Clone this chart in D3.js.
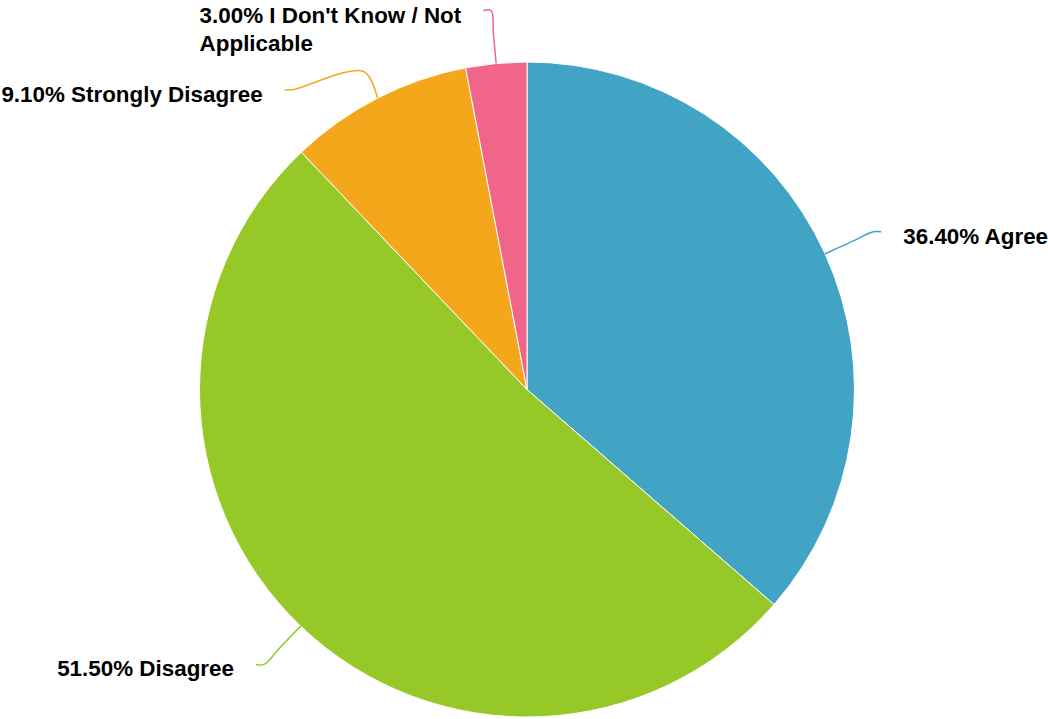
<!DOCTYPE html>
<html>
<head>
<meta charset="utf-8">
<script src="https://cdn.jsdelivr.net/npm/d3@7/dist/d3.min.js"></script>
<style>
  html, body { margin: 0; padding: 0; background: #ffffff; }
  svg { display: block; }
  .lbl { font-family: "Liberation Sans", Arial, Helvetica, sans-serif; font-weight: bold; font-size: 22.4px; fill: #000; }
</style>
</head>
<body>
<svg id="chart" width="1048" height="719"></svg>
<script>
// Survey responses (percent of respondents)
const categories = ["Agree", "Disagree", "Strongly Disagree", "I Don't Know / Not Applicable"];
const values = [36.4, 51.5, 9.1, 3.0];
const colors = ["#42a4c4", "#96c828", "#f5a71c", "#f06589"];

const width = 1048, height = 719;
const cx = 527, cy = 389.5, radius = 327.5;
const kneeRadius = radius + 53;    // circle where leader lines turn horizontal
const elbowRadius = radius + 30;   // radial part of the leader line
const tailLength = 8;              // short horizontal end of each leader
const textOffset = 30;             // knee to text edge
const baselineShift = 12;
const lineHeight = 28;
const wrapWidth = 300;

const svg = d3.select("#chart");
const g = svg.append("g").attr("transform", `translate(${cx},${cy})`);

const data = categories.map((c, i) => ({ name: c, value: values[i], color: colors[i] }));

const pie = d3.pie().sort(null).value(d => d.value);
const arcs = pie(data);
const arc = d3.arc().innerRadius(0).outerRadius(radius);

g.selectAll("path.slice")
  .data(arcs)
  .join("path")
  .attr("class", "slice")
  .attr("d", arc)
  .attr("fill", d => d.data.color)
  .attr("stroke", "#ffffff")
  .attr("stroke-width", 1);

// point at a given radius along an angle measured clockwise from 12 o'clock
const polar = (r, a) => [r * Math.sin(a), -r * Math.cos(a)];

// word-wrap label text to a maximum width
const measurer = svg.append("text").attr("class", "lbl").attr("visibility", "hidden");
const textWidth = s => { measurer.text(s); return measurer.node().getComputedTextLength(); };
function wrapLines(text) {
  const words = text.split(" ");
  const lines = [];
  let cur = "";
  words.forEach(w => {
    const trial = cur ? cur + " " + w : w;
    if (cur && textWidth(trial) > wrapWidth) {
      lines.push(cur);
      cur = w;
    } else {
      cur = trial;
    }
  });
  if (cur) lines.push(cur);
  return lines;
}

const labels = arcs.map(a => {
  const mid = (a.startAngle + a.endAngle) / 2;
  const [x, y] = polar(kneeRadius, mid);
  const text = d3.format(".2f")(a.data.value) + "% " + a.data.name;
  const lines = wrapLines(text);
  return {
    arc: a, mid, x, y,
    right: Math.sin(mid) >= 0,
    lines,
    blockWidth: d3.max(lines, textWidth)
  };
});
measurer.remove();

// push overlapping labels downward along the knee circle, per side
[true, false].forEach(side => {
  const group = labels.filter(l => l.right === side).sort((a, b) => a.y - b.y);
  for (let i = 1; i < group.length; i++) {
    const prev = group[i - 1], cur = group[i];
    const need = prev.y + prev.lines.length * lineHeight + 23;
    if (cur.y < need) {
      cur.y = need;
      const dx = Math.sqrt(Math.max(0, kneeRadius * kneeRadius - cur.y * cur.y));
      cur.x = side ? dx : -dx;
    }
  }
});

const leader = d3.line().curve(d3.curveCatmullRom.alpha(0.5));

g.selectAll("path.leader")
  .data(labels)
  .join("path")
  .attr("class", "leader")
  .attr("fill", "none")
  .attr("stroke", d => d.arc.data.color)
  .attr("stroke-width", 1.5)
  .attr("d", d => leader([
    polar(radius, d.mid),
    polar(elbowRadius, d.mid),
    [d.x, d.y],
    [d.x + (d.right ? tailLength : -tailLength), d.y]
  ]));

const texts = g.selectAll("text.lbl")
  .data(labels)
  .join("text")
  .attr("class", "lbl")
  .attr("text-anchor", "start")
  .attr("y", d => d.y + baselineShift);

texts.each(function (d) {
  const t = d3.select(this);
  const left = d.right ? d.x + textOffset : d.x - textOffset - d.blockWidth;
  d.lines.forEach((line, i) => {
    t.append("tspan")
      .attr("x", left)
      .attr("dy", i === 0 ? 0 : lineHeight)
      .text(line);
  });
});
</script>
</body>
</html>
